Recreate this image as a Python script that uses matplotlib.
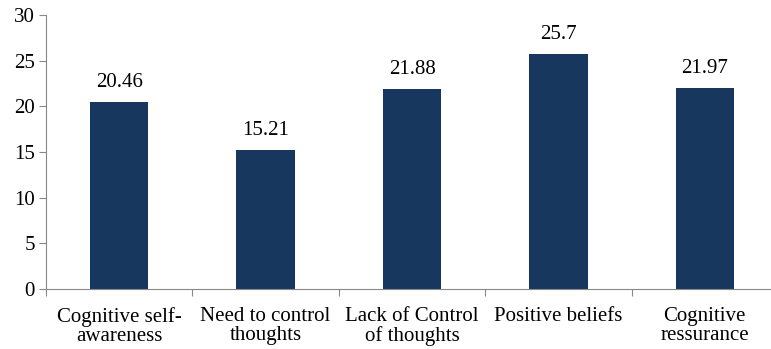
import matplotlib.pyplot as plt
import numpy as np

categories = ['Cognitive self-\nawareness', 'Need to control\nthoughts', 'Lack of Control\nof thoughts',
              'Positive beliefs', 'Cognitive\nressurance']
values = [20.46, 15.21, 21.88, 25.7, 21.97]
labels = ['20.46', '15.21', '21.88', '25.7', '21.97']

plt.rcParams['font.family'] = ['Liberation Serif', 'DejaVu Serif']

fig = plt.figure(figsize=(7.71, 3.49), dpi=100)
W, H = 771, 349
ax = fig.add_axes([46 / W, (H - 289) / H, (778 - 46) / W, (289 - 15) / H])

x = np.arange(len(categories))
bars = ax.bar(x, values, width=0.4, color='#17375E')
for xi, v, lab in zip(x, values, labels):
    ax.text(xi, v + 1.1, lab, ha='center', va='bottom', fontsize=15)

ax.set_xlim(-0.5, len(categories) - 0.5)
ax.set_ylim(0, 30)
ax.set_yticks(range(0, 31, 5))
ax.tick_params(axis='y', labelsize=15, length=5, color='#888888', pad=3)

# category labels sit between the boundary ticks
ax.set_xticks(np.arange(-0.5, len(categories), 1))
ax.set_xticklabels([])
ax.set_xticks(x, minor=True)
ax.set_xticklabels(categories, minor=True, fontsize=15, linespacing=1.0)
ax.tick_params(axis='x', which='major', length=5, color='#888888')
ax.tick_params(axis='x', which='minor', length=0, pad=13)

for s in ['top', 'right']:
    ax.spines[s].set_visible(False)
for s in ['left', 'bottom']:
    ax.spines[s].set_color('#888888')

fig.savefig('out.png', dpi=100)
